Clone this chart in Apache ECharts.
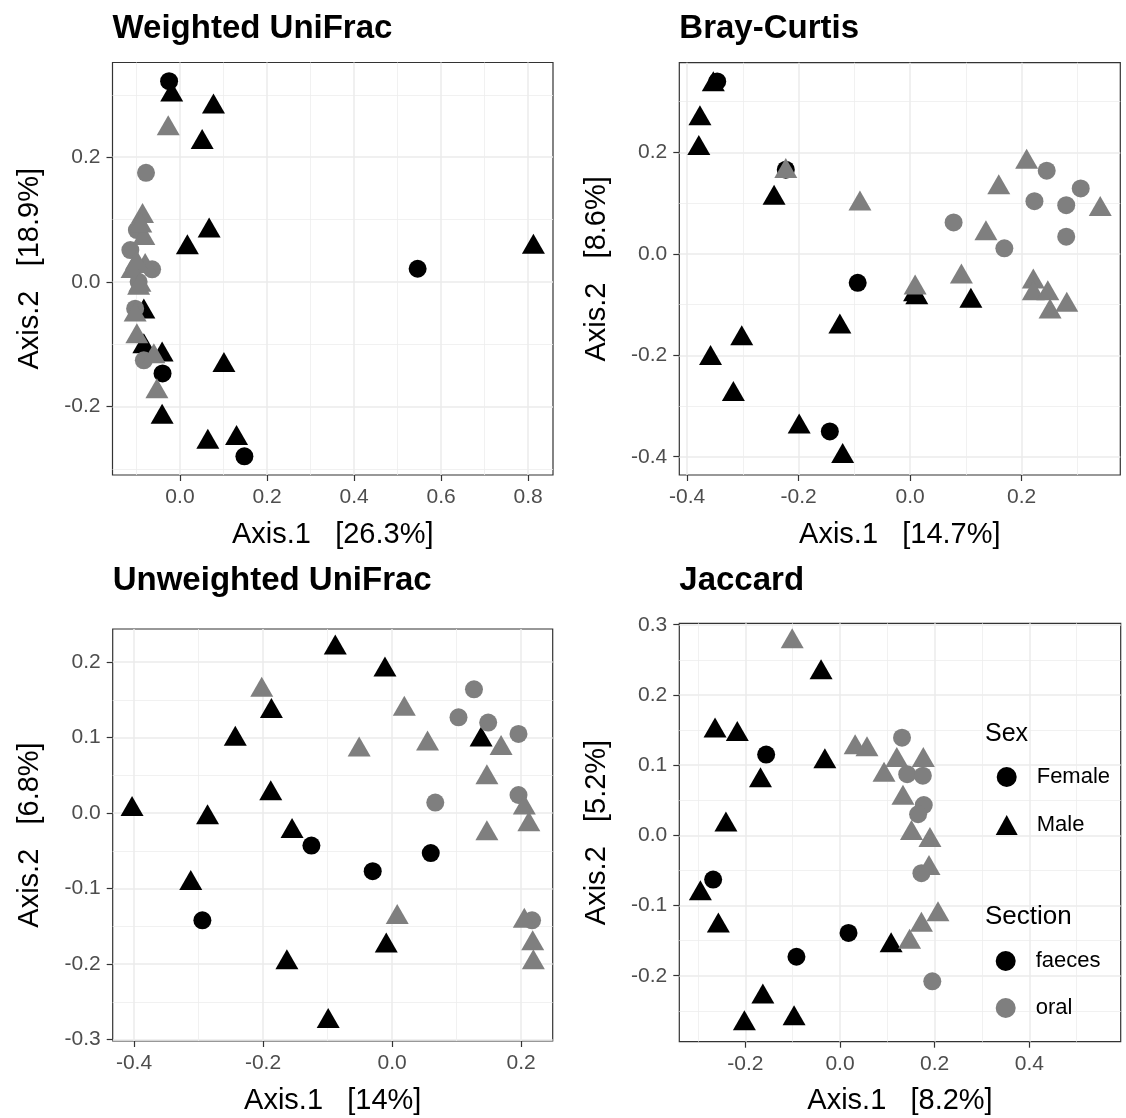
<!DOCTYPE html>
<html><head><meta charset="utf-8">
<script src="https://cdn.jsdelivr.net/npm/echarts@6/dist/echarts.min.js"></script>
<style>html,body{margin:0;padding:0;background:#fff}#c{width:1126px;height:1118px}</style>
</head><body><div id="c"></div>
<script>
const FONT = '"Liberation Sans", Arial, Helvetica, sans-serif';
const panelTitles = ['Weighted UniFrac', 'Bray-Curtis', 'Unweighted UniFrac', 'Jaccard'];
const xTitles = ['Axis.1   [26.3%]', 'Axis.1   [14.7%]', 'Axis.1   [14%]', 'Axis.1   [8.2%]'];
const yTitles = ['Axis.2   [18.9%]', 'Axis.2   [8.6%]', 'Axis.2   [6.8%]', 'Axis.2   [5.2%]'];
const xMajor = [[0, 0.2, 0.4, 0.6, 0.8], [-0.4, -0.2, 0, 0.2], [-0.4, -0.2, 0, 0.2], [-0.2, 0, 0.2, 0.4]];
const xMinor = [[-0.1, 0.1, 0.3, 0.5, 0.7], [-0.3, -0.1, 0.1, 0.3], [-0.3, -0.1, 0.1], [-0.3, -0.1, 0.1, 0.3, 0.5]];
const yMajor = [[-0.2, 0, 0.2], [-0.4, -0.2, 0, 0.2], [-0.3, -0.2, -0.1, 0, 0.1, 0.2], [-0.2, -0.1, 0, 0.1, 0.2, 0.3]];
const yMinor = [[-0.3, -0.1, 0.1, 0.3], [-0.3, -0.1, 0.1, 0.3], [-0.25, -0.15, -0.05, 0.05, 0.15], [-0.25, -0.15, -0.05, 0.05, 0.15, 0.25]];
const xRange = [[-0.155, 0.857], [-0.414, 0.377], [-0.433, 0.249], [-0.3395, 0.593]];
const yRange = [[-0.310, 0.352], [-0.436, 0.377], [-0.302, 0.244], [-0.294, 0.302]];

// Weighted UniFrac
const wuFaecesFemale = [[-0.025,0.322],[0.546,0.021],[-0.040,-0.147],[0.148,-0.280]];
const wuFaecesMale = [[-0.019,0.300],[0.077,0.281],[0.051,0.224],[0.067,0.082],[0.017,0.055],[0.812,0.056],[-0.083,-0.048],[-0.083,-0.104],[-0.041,-0.117],[0.101,-0.134],[-0.041,-0.217],[0.064,-0.257],[0.130,-0.251]];
const wuOralFemale = [[-0.078,0.175],[-0.099,0.083],[-0.114,0.051],[-0.064,0.020],[-0.103,-0.043],[-0.083,-0.126],[-0.095,0.000]];
const wuOralMale = [[-0.027,0.246],[-0.086,0.105],[-0.083,0.070],[-0.080,0.025],[-0.110,0.017],[-0.095,-0.010],[-0.103,-0.053],[-0.099,-0.088],[-0.060,-0.120],[-0.053,-0.176],[-0.090,0.090],[-0.100,0.030],[-0.092,-0.005]];
// Bray-Curtis
const bcFaecesFemale = [[-0.346,0.340],[-0.223,0.166],[-0.094,-0.057],[-0.144,-0.350]];
const bcFaecesMale = [[-0.353,0.334],[-0.377,0.267],[-0.379,0.208],[-0.244,0.110],[0.012,-0.086],[0.008,-0.080],[0.109,-0.093],[-0.126,-0.144],[-0.302,-0.167],[-0.358,-0.206],[-0.317,-0.277],[-0.199,-0.341],[-0.121,-0.399]];
const bcOralFemale = [[0.078,0.062],[0.169,0.011],[0.223,0.104],[0.245,0.164],[0.280,0.096],[0.306,0.129],[0.280,0.034]];
const bcOralMale = [[-0.223,0.163],[-0.090,0.099],[0.209,0.181],[0.159,0.131],[0.341,0.088],[0.136,0.040],[0.092,-0.045],[0.009,-0.067],[0.221,-0.055],[0.221,-0.078],[0.247,-0.078],[0.281,-0.101],[0.251,-0.114]];
// Unweighted UniFrac
const uuFaecesFemale = [[-0.125,-0.043],[-0.030,-0.077],[0.060,-0.053],[-0.294,-0.142]];
const uuFaecesMale = [[-0.088,0.219],[-0.011,0.190],[-0.187,0.135],[-0.243,0.098],[0.138,0.097],[-0.403,0.005],[-0.286,-0.006],[-0.188,0.026],[-0.155,-0.024],[-0.312,-0.093],[-0.009,-0.176],[-0.163,-0.198],[-0.099,-0.276]];
const uuOralFemale = [[0.127,0.164],[0.103,0.127],[0.149,0.120],[0.196,0.105],[0.196,0.024],[0.067,0.014],[0.217,-0.142]];
const uuOralMale = [[-0.202,0.163],[0.019,0.138],[-0.051,0.084],[0.055,0.092],[0.169,0.086],[0.147,0.047],[0.205,0.007],[0.212,-0.015],[0.147,-0.027],[0.008,-0.138],[0.205,-0.143],[0.218,-0.173],[0.219,-0.198]];
// Jaccard
const jFaecesFemale = [[-0.156,0.115],[-0.268,-0.063],[0.018,-0.139],[-0.092,-0.173]];
const jFaecesMale = [[-0.040,0.232],[-0.264,0.149],[-0.217,0.144],[-0.032,0.105],[-0.168,0.078],[-0.241,0.015],[-0.295,-0.083],[-0.257,-0.129],[0.108,-0.157],[-0.163,-0.230],[-0.202,-0.268],[-0.097,-0.261]];
const jOralFemale = [[0.131,0.139],[0.142,0.087],[0.175,0.085],[0.177,0.043],[0.165,0.030],[0.172,-0.054],[0.195,-0.208]];
const jOralMale = [[-0.101,0.276],[0.032,0.125],[0.057,0.122],[0.093,0.086],[0.120,0.107],[0.176,0.107],[0.133,0.053],[0.151,0.003],[0.190,-0.007],[0.188,-0.047],[0.207,-0.113],[0.172,-0.128],[0.147,-0.152]];

const panelData = [
  [wuFaecesFemale, wuFaecesMale, wuOralFemale, wuOralMale],
  [bcFaecesFemale, bcFaecesMale, bcOralFemale, bcOralMale],
  [uuFaecesFemale, uuFaecesMale, uuOralFemale, uuOralMale],
  [jFaecesFemale, jFaecesMale, jOralFemale, jOralMale]
];
const sexNames = ['Female', 'Male'];
const sectionNames = ['faeces', 'oral'];

const BLACK = '#000000', GREY = '#7F7F7F';
const grids = [
  {left: 112.5, top: 62.5, width: 440.5, height: 412.5},
  {left: 679.3, top: 62.7, width: 441, height: 412.3},
  {left: 112.7, top: 629, width: 440, height: 412},
  {left: 679.3, top: 623.3, width: 441.4, height: 418.4}
].map(g => Object.assign(g, {show: true, borderColor: '#333333', borderWidth: 1.2, backgroundColor: '#fff', containLabel: false}));
const titlePos = [[112.5, 12], [679.3, 12], [112.7, 564], [679.3, 564]];

const fmt = v => (Math.abs(v) < 1e-9 ? 0 : v).toFixed(1);
const xAxes = [], yAxes = [];
for (let i = 0; i < 4; i++) {
  xAxes.push({
    type: 'value', gridIndex: i, min: xRange[i][0], max: xRange[i][1], position: 'bottom',
    name: xTitles[i], nameLocation: 'middle', nameGap: 45,
    nameTextStyle: {color: '#000', fontSize: 29, fontFamily: FONT},
    axisLine: {show: false, onZero: false},
    axisTick: {show: true, length: 6, customValues: xMajor[i], lineStyle: {color: '#333333', width: 1.2}},
    axisLabel: {show: true, customValues: xMajor[i], margin: 12, color: '#4D4D4D', fontSize: 21, fontFamily: FONT, formatter: fmt},
    splitLine: {show: true, lineStyle: {color: '#EBEBEB', width: 1.5}}
  });
  xAxes.push({
    type: 'value', gridIndex: i, min: xRange[i][0], max: xRange[i][1], position: 'top',
    axisLine: {show: false, onZero: false}, axisTick: {show: false, customValues: xMinor[i]},
    axisLabel: {show: false}, splitLine: {show: true, lineStyle: {color: '#EDEDED', width: 0.8}}
  });
  yAxes.push({
    type: 'value', gridIndex: i, min: yRange[i][0], max: yRange[i][1], position: 'left',
    name: yTitles[i], nameLocation: 'middle', nameGap: 68,
    nameTextStyle: {color: '#000', fontSize: 29, fontFamily: FONT},
    axisLine: {show: false, onZero: false},
    axisTick: {show: true, length: 6, customValues: yMajor[i], lineStyle: {color: '#333333', width: 1.2}},
    axisLabel: {show: true, customValues: yMajor[i], margin: 12, color: '#4D4D4D', fontSize: 21, fontFamily: FONT, formatter: fmt},
    splitLine: {show: true, lineStyle: {color: '#EBEBEB', width: 1.5}}
  });
  yAxes.push({
    type: 'value', gridIndex: i, min: yRange[i][0], max: yRange[i][1], position: 'right',
    axisLine: {show: false, onZero: false}, axisTick: {show: false, customValues: yMinor[i]},
    axisLabel: {show: false}, splitLine: {show: true, lineStyle: {color: '#EDEDED', width: 0.8}}
  });
}

const series = [];
const styles = [
  {sym: 'circle', color: BLACK}, {sym: 'triangle', color: BLACK},
  {sym: 'circle', color: GREY}, {sym: 'triangle', color: GREY}
];
for (let i = 0; i < 4; i++) {
  for (let k = 0; k < 4; k++) {
    const st = styles[k];
    series.push({
      type: 'scatter', name: sectionNames[k >> 1] + ' ' + sexNames[k & 1] + ' ' + i,
      xAxisIndex: 2 * i, yAxisIndex: 2 * i, data: panelData[i][k],
      symbol: st.sym,
      symbolSize: st.sym === 'triangle' ? [23, 20] : 18,
      symbolOffset: st.sym === 'triangle' ? [0, -3.3] : [0, 0],
      itemStyle: {color: st.color, opacity: 1},
      silent: true, z: 3 + k
    });
  }
}
// legend entries
[['Female', BLACK], ['Male', BLACK], ['faeces', BLACK], ['oral', GREY]].forEach(([n, c]) => {
  series.push({type: 'scatter', name: n, xAxisIndex: 0, yAxisIndex: 0, data: [], itemStyle: {color: c, opacity: 1}});
});

const titles = panelTitles.map((t, i) => ({
  text: t, left: titlePos[i][0], top: titlePos[i][1], padding: 0,
  textStyle: {fontSize: 33, fontWeight: 'bold', color: '#000', fontFamily: FONT}
}));
titles.push({text: 'Sex', left: 985, top: 722, padding: 0, textStyle: {fontSize: 25, fontWeight: 'normal', color: '#000', fontFamily: FONT}});
titles.push({text: 'Section', left: 985, top: 904, padding: 0, textStyle: {fontSize: 26, fontWeight: 'normal', color: '#000', fontFamily: FONT}});

const legendBase = {orient: 'vertical', itemWidth: 22, itemHeight: 20, padding: 0, selectedMode: false,
  itemStyle: {opacity: 1, borderWidth: 0},
  textStyle: {fontSize: 22, color: '#000', fontFamily: FONT, padding: [0, 0, 0, 14]}};
const option = {
  animation: false,
  backgroundColor: '#fff',
  title: titles,
  grid: grids,
  xAxis: xAxes,
  yAxis: yAxes,
  legend: [
    Object.assign({}, legendBase, {left: 995.7, top: 766, itemGap: 26, data: [{name: 'Female', icon: 'circle'}, {name: 'Male', icon: 'triangle'}]}),
    Object.assign({}, legendBase, {left: 995.7, top: 950, itemGap: 25, data: [{name: 'faeces', icon: 'circle'}, {name: 'oral', icon: 'circle'}]})
  ],
  series: series
};
const chart = echarts.init(document.getElementById('c'), null, {renderer: 'canvas'});
chart.setOption(option);
</script>
</body></html>
